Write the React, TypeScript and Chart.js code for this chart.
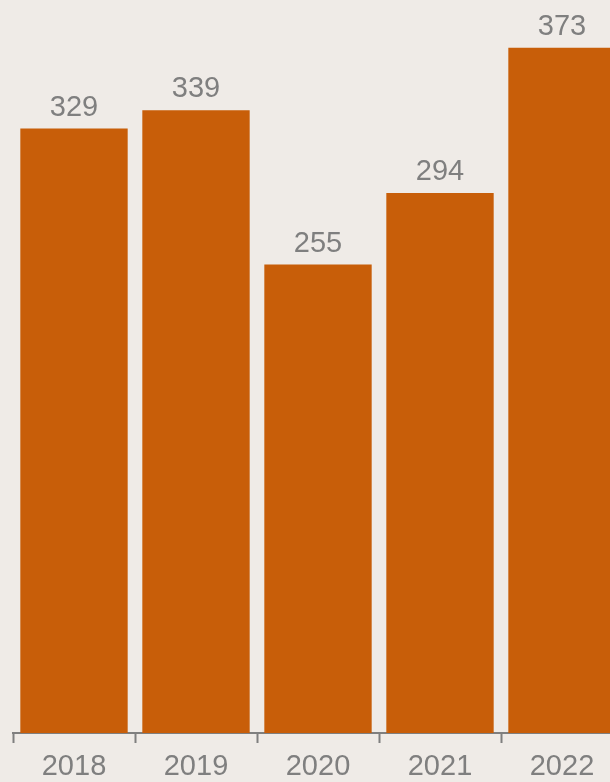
import React, { useEffect, useRef } from "react";
import { Chart, registerables } from "chart.js";

Chart.register(...registerables);

const categories = ["2018", "2019", "2020", "2021", "2022"];
const values = [329, 339, 255, 294, 373];

const BG = "#efebe7";
const BAR = "#c85e09";
const GREY = "#7f7f7f";
const FONT = "'Liberation Sans', Arial, sans-serif";

const valueLabels = {
  id: "valueLabels",
  afterDatasetsDraw(chart: any) {
    const ctx = chart.ctx;
    const meta = chart.getDatasetMeta(0);
    ctx.save();
    ctx.font = `29px ${FONT}`;
    ctx.fillStyle = GREY;
    ctx.textAlign = "center";
    ctx.textBaseline = "alphabetic";
    meta.data.forEach((bar: any, i: number) => {
      ctx.fillText(String(values[i]), bar.x, bar.y - 13);
    });
    ctx.restore();
  },
};

export default function App() {
  const ref = useRef<HTMLCanvasElement>(null);
  useEffect(() => {
    document.body.style.margin = "0";
    document.body.style.background = BG;
    const chart = new Chart(ref.current!, {
      type: "bar",
      data: {
        labels: categories,
        datasets: [
          {
            data: values,
            backgroundColor: BAR,
            borderWidth: 0,
            barPercentage: 0.88,
            categoryPercentage: 1,
          },
        ],
      },
      options: {
        responsive: false,
        animation: false,
        events: [],
        layout: { padding: { left: 13, right: 0, top: 0, bottom: 0 } },
        plugins: {
          legend: { display: false },
          tooltip: { enabled: false },
        },
        scales: {
          y: { display: false, min: 0, max: 399 },
          x: {
            afterFit(scale: any) {
              scale.height = 49;
            },
            grid: {
              display: true,
              drawOnChartArea: false,
              drawTicks: true,
              tickLength: 10,
              tickWidth: 2,
              color: GREY,
              offset: true,
            },
            border: { display: true, color: GREY, width: 2 },
            ticks: {
              color: GREY,
              font: { family: FONT, size: 29, lineHeight: 1.2 },
              padding: 7,
              maxRotation: 0,
              autoSkip: false,
            },
          },
        },
      },
      plugins: [valueLabels],
    });
    return () => chart.destroy();
  }, []);
  return (
    <div
      style={{
        position: "fixed",
        left: 0,
        top: 0,
        width: 610,
        height: 782,
        overflow: "hidden",
        background: BG,
      }}
    >
      <canvas ref={ref} width={623} height={782} style={{ width: 623, height: 782, display: "block" }} />
    </div>
  );
}
